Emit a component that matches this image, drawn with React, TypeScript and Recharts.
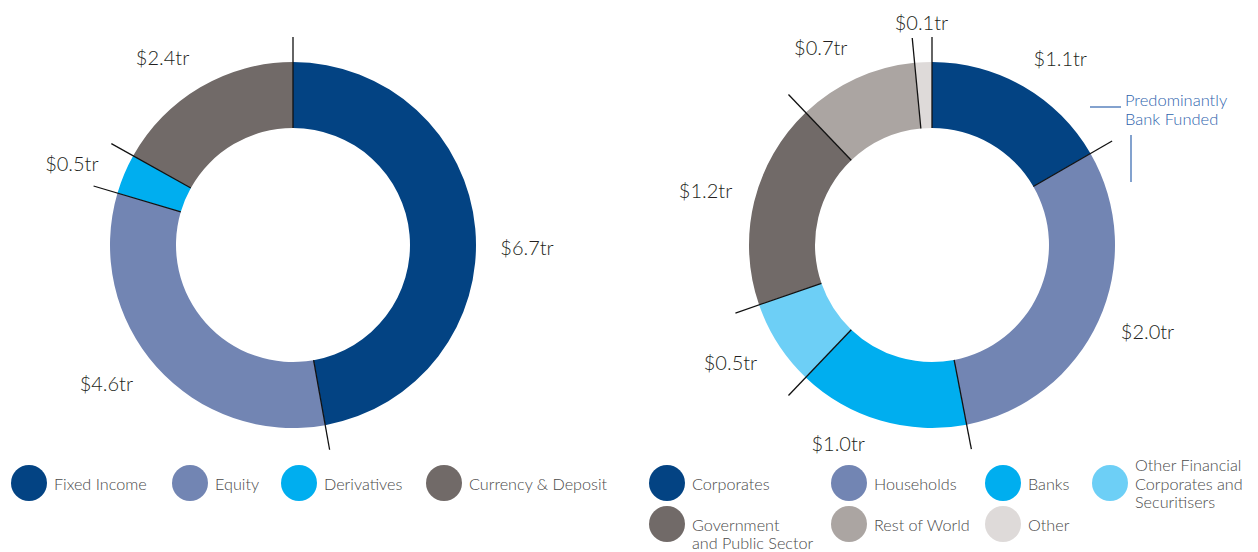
import React from 'react';
import { PieChart, Pie, Cell, Customized } from 'recharts';

const leftNames = ['Fixed Income', 'Equity', 'Derivatives', 'Currency & Deposit'];
const leftValues = [6.7, 4.6, 0.5, 2.4];
const leftColors = ['#034383', '#7285b3', '#00aeef', '#716a68'];

const rightNames = [
  'Corporates',
  'Households',
  'Banks',
  'Other Financial Corporates and Securitisers',
  'Government and Public Sector',
  'Rest of World',
  'Other',
];
const rightValues = [1.1, 2.0, 1.0, 0.5, 1.2, 0.7, 0.1];
const rightColors = ['#034383', '#7285b3', '#00aeef', '#6dcff6', '#716a68', '#aba5a2', '#dedad9'];

const leftLegendLines = [['Fixed Income'], ['Equity'], ['Derivatives'], ['Currency & Deposit']];
const rightLegendLines = [
  ['Corporates'],
  ['Households'],
  ['Banks'],
  ['Other Financial', 'Corporates and', 'Securitisers'],
  ['Government', 'and Public Sector'],
  ['Rest of World'],
  ['Other'],
];

const annotationLines = ['Predominantly', 'Bank Funded'];

const leftData = leftNames.map((name, i) => ({ name, value: leftValues[i] }));
const rightData = rightNames.map((name, i) => ({ name, value: rightValues[i] }));

// label placement tweaks (clockwise angle nudge in degrees, radius in px) — layout only
const leftLabelLayout = [
  [5.6, 234],
  [5.4, 232],
  [-2.4, 236],
  [-4.3, 229],
];
const rightLabelLayout = [
  [4.4, 227],
  [-2.8, 232],
  [9, 219],
  [2.6, 233],
  [0, 233],
  [-4.8, 227],
  [0, 223],
];

const FONT = 'Lato, "Open Sans", sans-serif';
const RAD = Math.PI / 180;
const OUTER = 183;
const INNER = 117;
const LINE_R = 208;

const makeLabel = (layout: number[][]) => (p: any) => {
  const { cx, cy, midAngle, startAngle, value, index } = p;
  const [nudge, labelR] = layout[index] || [0, 230];
  const a = midAngle - nudge;
  const lx = cx + labelR * Math.cos(-a * RAD);
  const ly = cy + labelR * Math.sin(-a * RAD);
  const x1 = cx + INNER * Math.cos(-startAngle * RAD);
  const y1 = cy + INNER * Math.sin(-startAngle * RAD);
  const x2 = cx + LINE_R * Math.cos(-startAngle * RAD);
  const y2 = cy + LINE_R * Math.sin(-startAngle * RAD);
  return (
    <g key={`lbl-${index}`}>
      <line x1={x1} y1={y1} x2={x2} y2={y2} stroke="#111" strokeWidth={1.3} />
      <text
        x={lx}
        y={ly}
        textAnchor="middle"
        dominantBaseline="central"
        fontFamily={FONT}
        fontWeight={300}
        fontSize={20}
        fill="#231f20"
      >
        {`$${Number(value).toFixed(1)}tr`}
      </text>
    </g>
  );
};

const LegendItem = ({ cx, cy, color, lines }: { cx: number; cy: number; color: string; lines: string[] }) => {
  const lh = 18.5;
  const start = cy - Math.floor((lines.length - 1) / 2) * lh;
  return (
    <g>
      <circle cx={cx} cy={cy} r={18} fill={color} />
      {lines.map((t, i) => (
        <text
          key={i}
          x={cx + 25}
          y={start + i * lh}
          dominantBaseline="central"
          fontFamily={FONT}
          fontWeight={300}
          fontSize={16.2}
          fill="#4a4a4a"
        >
          {t}
        </text>
      ))}
    </g>
  );
};

const leftLegendX = [29, 190, 299, 444];
const rightLegendPos = [
  [667, 483],
  [849, 483],
  [1003, 483],
  [1110, 483],
  [667, 524],
  [849, 524],
  [1003, 524],
];

const Extras = () => (
  <g>
    {leftLegendLines.map((lines, i) => (
      <LegendItem key={`l${i}`} cx={leftLegendX[i]} cy={483} color={leftColors[i]} lines={lines} />
    ))}
    {rightLegendLines.map((lines, i) => (
      <LegendItem
        key={`r${i}`}
        cx={rightLegendPos[i][0]}
        cy={rightLegendPos[i][1]}
        color={rightColors[i]}
        lines={lines}
      />
    ))}
    <line x1={1090} y1={107} x2={1121} y2={107} stroke="#2f64ad" strokeWidth={1.2} />
    <line x1={1131} y1={135} x2={1131} y2={182} stroke="#2f64ad" strokeWidth={1.2} />
    {annotationLines.map((t, i) => (
      <text
        key={t}
        x={1125}
        y={100 + i * 18.5}
        dominantBaseline="central"
        fontFamily={FONT}
        fontWeight={300}
        fontSize={16.5}
        fill="#2f64ad"
      >
        {t}
      </text>
    ))}
  </g>
);

export default function App() {
  return (
    <div style={{ position: 'absolute', left: 0, top: 0, width: 1258, height: 552, background: '#fff' }}>
      <PieChart width={1258} height={552} margin={{ top: 0, right: 0, bottom: 0, left: 0 }}>
        <Pie
          data={leftData}
          dataKey="value"
          nameKey="name"
          cx={293}
          cy={245}
          innerRadius={INNER}
          outerRadius={OUTER}
          startAngle={90}
          endAngle={-270}
          stroke="none"
          isAnimationActive={false}
          labelLine={false}
          label={makeLabel(leftLabelLayout)}
        >
          {leftData.map((d, i) => (
            <Cell key={d.name} fill={leftColors[i]} />
          ))}
        </Pie>
        <Pie
          data={rightData}
          dataKey="value"
          nameKey="name"
          cx={932}
          cy={245}
          innerRadius={INNER}
          outerRadius={OUTER}
          startAngle={90}
          endAngle={-270}
          stroke="none"
          isAnimationActive={false}
          labelLine={false}
          label={makeLabel(rightLabelLayout)}
        >
          {rightData.map((d, i) => (
            <Cell key={d.name} fill={rightColors[i]} />
          ))}
        </Pie>
        <Customized component={Extras} />
      </PieChart>
    </div>
  );
}
